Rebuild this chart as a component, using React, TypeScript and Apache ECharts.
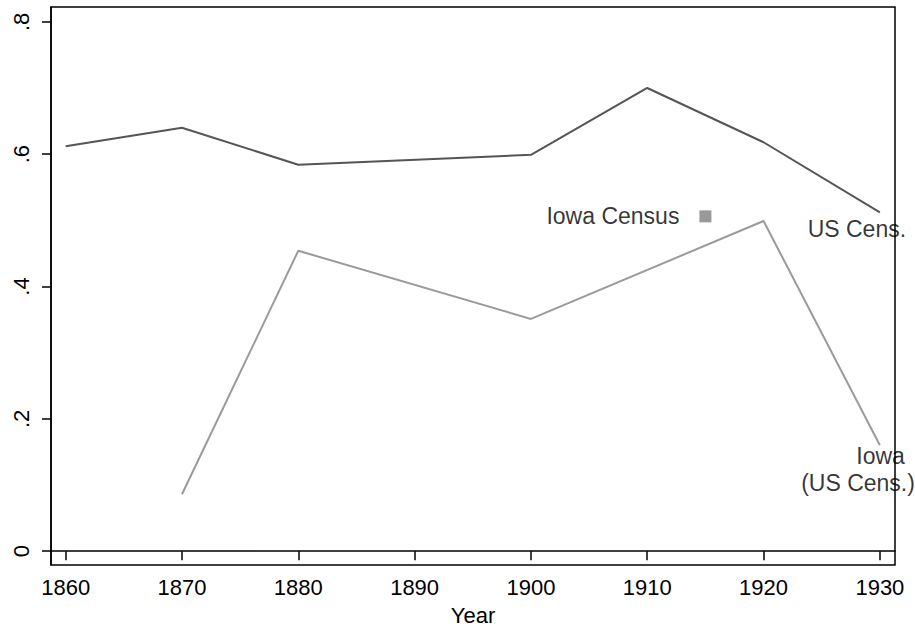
import React, { useEffect, useRef } from "react";
import * as echarts from "echarts";

const usYears = [1860, 1870, 1880, 1900, 1910, 1920, 1930];
const usValues = [0.612, 0.640, 0.584, 0.599, 0.700, 0.618, 0.512];
const iowaYears = [1870, 1880, 1900, 1920, 1930];
const iowaValues = [0.086, 0.454, 0.351, 0.499, 0.160];
const iowaCensusPoint = [1915, 0.506];
const xTicks = [1860, 1870, 1880, 1890, 1900, 1910, 1920, 1930];
const yTicks = [0, 0.2, 0.4, 0.6, 0.8];

const FONT = "'Liberation Sans', Arial, sans-serif";
const FS = 22;

export default function App() {
  const ref = useRef<HTMLDivElement>(null);
  useEffect(() => {
    if (!ref.current) return;
    const chart = echarts.init(ref.current, null, { renderer: "svg" });
    const zip = (xs: number[], ys: number[]) => xs.map((x, i) => [x, ys[i]]);
    const us = zip(usYears, usValues);
    const iowa = zip(iowaYears, iowaValues);
    chart.setOption({
      animation: false,
      backgroundColor: "#fff",
      textStyle: { fontFamily: FONT },
      grid: {
        left: 51,
        top: 7,
        right: 20,
        bottom: 59,
        show: true,
        borderColor: "#000",
        borderWidth: 1.5,
        backgroundColor: "#fff",
      },
      xAxis: {
        type: "value",
        min: 1858.74,
        max: 1931.3,
        name: "Year",
        nameLocation: "middle",
        nameGap: 39,
        nameTextStyle: { color: "#000", fontSize: FS, fontFamily: FONT },
        splitLine: { show: false },
        axisLine: { show: true, lineStyle: { color: "#000", width: 1.5 } },
        axisTick: { show: true, length: 9, lineStyle: { color: "#000", width: 1.5 }, customValues: xTicks },
        axisLabel: {
          color: "#000",
          fontSize: FS,
          margin: 11,
          fontFamily: FONT,
          customValues: xTicks,
          formatter: (v: number) => String(Math.round(v)),
        },
      },
      yAxis: {
        type: "value",
        min: -0.0209,
        max: 0.8224,
        splitLine: { show: false },
        axisLine: { show: true, lineStyle: { color: "#000", width: 1.5 } },
        axisTick: { show: true, length: 9, lineStyle: { color: "#000", width: 1.5 }, customValues: yTicks },
        axisLabel: {
          color: "#000",
          fontSize: FS,
          margin: 19,
          rotate: 90,
          fontFamily: FONT,
          customValues: yTicks,
          formatter: (v: number) => (Math.abs(v) < 1e-9 ? "0" : String(Math.round(v * 10) / 10).replace(/^0/, "")),
        },
      },
      series: [
        {
          type: "line",
          data: us,
          symbol: "none",
          lineStyle: { color: "#555555", width: 2 },
        },
        {
          type: "line",
          data: iowa,
          symbol: "none",
          lineStyle: { color: "#9a9a9a", width: 2 },
        },
        {
          type: "scatter",
          data: [iowaCensusPoint],
          symbol: "rect",
          symbolSize: 12,
          itemStyle: { color: "#808080" },
          label: {
            show: true,
            position: "left",
            distance: 20,
            formatter: "Iowa Census",
            color: "#000",
            fontSize: 23,
            fontFamily: FONT,
          },
        },
        {
          type: "scatter",
          data: [us[us.length - 1]],
          symbolSize: 1,
          itemStyle: { color: "rgba(0,0,0,0)" },
          label: {
            show: true,
            position: "inside",
            offset: [-23, 17],
            formatter: "US Cens.",
            color: "#000",
            fontSize: 23,
            fontFamily: FONT,
          },
        },
        {
          type: "scatter",
          data: [iowa[iowa.length - 1]],
          symbolSize: 1,
          itemStyle: { color: "rgba(0,0,0,0)" },
          label: {
            show: true,
            position: "inside",
            offset: [-23, 24],
            align: "center",
            formatter: "{a|Iowa}\n{b|(US Cens.)}",
            color: "#000",
            fontSize: 23,
            lineHeight: 27,
            fontFamily: FONT,
            rich: {
              a: { fontSize: 23, lineHeight: 27, color: "#000", fontFamily: FONT, align: "right", width: 106, padding: [0, 10, 0, 0] },
              b: { fontSize: 23, lineHeight: 27, color: "#000", fontFamily: FONT, align: "right", width: 116 },
            },
          },
        },
      ],
    });
    return () => chart.dispose();
  }, []);
  return <div ref={ref} style={{ width: 915, height: 631, position: "absolute", left: 0, top: 0 }} />;
}
